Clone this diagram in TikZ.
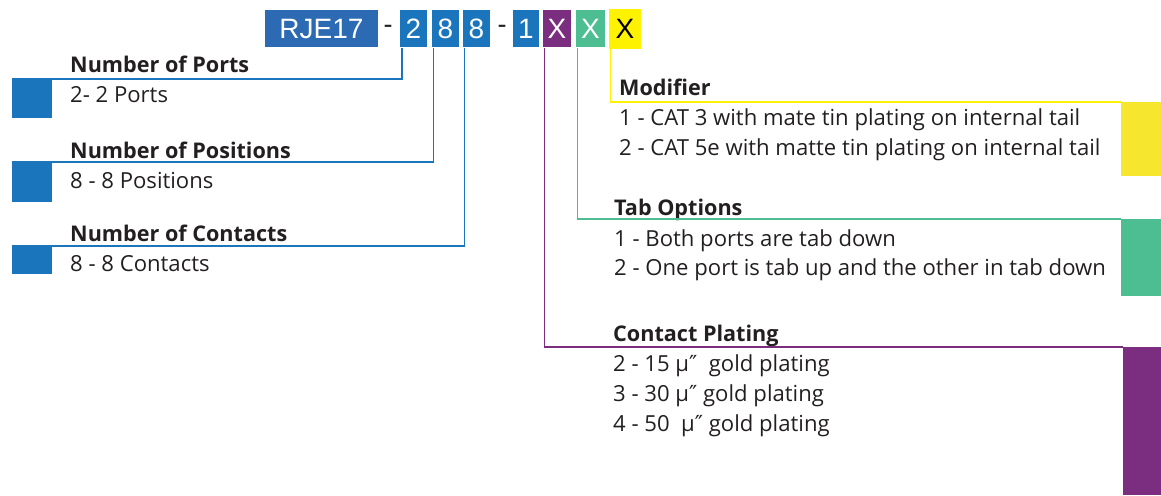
\documentclass[tikz,border=0pt]{standalone}
\usepackage{fontspec}
\setmainfont{Open Sans}
\newfontfamily\codefont{Liberation Sans}
\newfontfamily\symfont{DejaVu Sans}
\usetikzlibrary{positioning}
\definecolor{rjeblue}{HTML}{2C6AB3}
\definecolor{digblue}{HTML}{1B75BC}
\definecolor{plum}{HTML}{7B2E80}
\definecolor{mint}{HTML}{4DBE92}
\definecolor{lemon}{HTML}{FFF200}
\definecolor{lemonblock}{HTML}{F6E72E}
\definecolor{ink}{HTML}{231F20}

\begin{document}
\begin{tikzpicture}[
    x=1pt, y=-1pt,
    codebox/.style={
      fill=#1, text=white, inner sep=0pt, minimum height=37pt,
      minimum width=27pt, font=\codefont\fontsize{28}{28}\selectfont
    },
    hyphen/.style={text=ink, inner sep=0pt, font=\codefont\fontsize{27}{27}\selectfont},
    lead/.style={draw=#1, line width=1.5pt},
    tabsq/.style={fill=#1, anchor=north west, inner sep=0pt, minimum width=40pt},
    head/.style={
      anchor=base west, inner sep=0pt, text=ink,
      font=\bfseries\fontsize{21.6}{26}\selectfont
    },
    item/.style={
      anchor=base west, inner sep=0pt, text=ink,
      font=\fontsize{22.1}{26}\selectfont
    },
  ]
    \useasboundingbox (0,0) rectangle (1161,495);

    \node[codebox=rjeblue, minimum width=113pt] (rje) at (321.5,29) {RJE17};
    \node[hyphen] (dasha) at (388,29) {-};
    \node[codebox=digblue] (ntwo) at (413.5,29) {2};
    \node[codebox=digblue] (neighta) at (445.5,29) {8};
    \node[codebox=digblue] (neightb) at (476.5,29) {8};
    \node[hyphen] (dashb) at (502,29) {-};
    \node[codebox=digblue, minimum width=26pt] (none) at (526,29) {1};
    \node[codebox=plum, minimum width=28pt] (xplate) at (557,29) {X};
    \node[codebox=mint, minimum width=29pt] (xtab) at (590.5,29) {X};
    \node[codebox=lemon, text=black, minimum width=32pt, minimum height=40pt] (xmod) at (625,29) {X};

    \node[tabsq=digblue, minimum height=39pt] (portsq) at (12,79) {};
    \node[tabsq=digblue, minimum height=40pt] (possq) at (12,162) {};
    \node[tabsq=digblue, minimum height=28pt] (contsq) at (12,246) {};

    \node[head] (portshd) at (70,72) {Number of Ports};
    \node[item] (portsa) at (70,102) {2- 2 Ports};
    \node[head] (poshd) at (70,158) {Number of Positions};
    \node[item] (posa) at (70,188) {8 - 8 Positions};
    \node[head] (conthd) at (70,241) {Number of Contacts};
    \node[item] (conta) at (70,271) {8 - 8 Contacts};

    \draw[lead=digblue] ([xshift=2pt]ntwo.south west) |- (portsq.north west);
    \draw[lead=digblue] ([xshift=1.5pt]neighta.south west) |- (possq.north west);
    \draw[lead=digblue] ([xshift=1.5pt]neightb.south west) |- (contsq.north west);

    \node[tabsq=lemonblock, minimum height=74pt] (modsq) at (1121,102) {};
    \node[tabsq=mint, minimum height=77pt] (tabsqr) at (1121,219) {};
    \node[tabsq=plum, minimum width=38pt, minimum height=148pt] (platesq) at (1123,347) {};

    \node[head] (modhd) at (619,95) {Modifier};
    \node[item] (moda) at (619,125) {1 - CAT 3 with mate tin plating on internal tail};
    \node[item] (modb) at (619,155) {2 - CAT 5e with matte tin plating on internal tail};
    \node[head] (tabhd) at (614,215) {Tab Options};
    \node[item] (taba) at (614,246) {1 - Both ports are tab down};
    \node[item] (tabb) at (614,275) {2 - One port is tab up and the other in tab down};
    \node[head] (platehd) at (613,341) {Contact Plating};
    \node[item] (platea) at (613,371) {2 - 15 µ{\symfont ″}~ gold plating};
    \node[item] (plateb) at (613,401) {3 - 30 µ{\symfont ″} gold plating};
    \node[item] (platec) at (613,431) {4 - 50~ µ{\symfont ″} gold plating};

    \draw[lead=lemon] ([xshift=1.5pt]xmod.south west) |- (modsq.north west);
    \draw[lead=mint] ([xshift=1.5pt]xtab.south west) |- (tabsqr.north west);
    \draw[lead=plum] ([xshift=1.5pt]xplate.south west) |- (platesq.north west);
  \end{tikzpicture}
\end{document}
